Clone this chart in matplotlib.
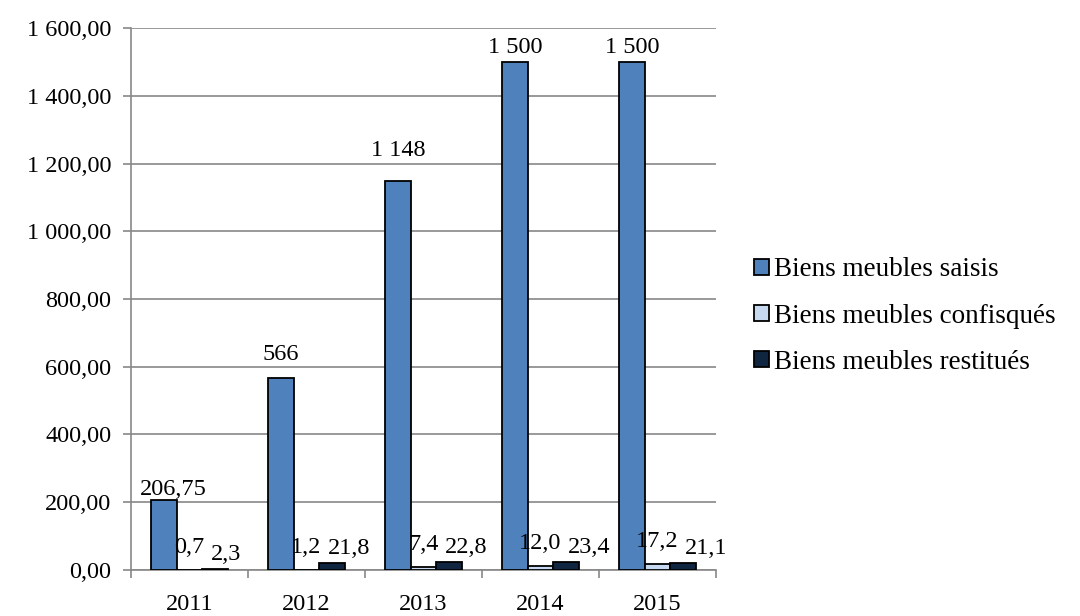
import matplotlib.pyplot as plt
import numpy as np
from matplotlib.ticker import FuncFormatter

years = ["2011", "2012", "2013", "2014", "2015"]
saisis = [206.75, 566, 1148, 1500, 1500]
confisques = [0.7, 1.2, 7.4, 12.0, 17.2]
restitues = [2.3, 21.8, 22.8, 23.4, 21.1]
saisis_labels = ["206,75", "566", "1 148", "1 500", "1 500"]
confisques_labels = ["0,7", "1,2", "7,4", "12,0", "17,2"]
restitues_labels = ["2,3", "21,8", "22,8", "23,4", "21,1"]
series_names = ["Biens meubles saisis", "Biens meubles confisqués", "Biens meubles restitués"]
colors = ["#4F81BD", "#C6D9F1", "#10253F"]

# label nudges in pixels (the original labels were placed by hand)
saisis_dx = [10, 0, 0, 0, 0]
saisis_dy = [0, 13, 20, 4, 4]
small_dy = [12, 4]  # confisqués, restitués

plt.rcParams["font.family"] = ["Liberation Serif", "DejaVu Serif"]
FS = 17.5

fig = plt.figure(figsize=(10.8, 6.16), dpi=100)
ax = fig.add_axes([0.1213, 0.0747, 0.5417, 0.8798])

x = np.arange(len(years))
w = 0.22
series = [saisis, confisques, restitues]
labels = [saisis_labels, confisques_labels, restitues_labels]
anns = []
for i, (vals, labs) in enumerate(zip(series, labels)):
    pos = x + (i - 1) * w
    bars = ax.bar(pos, vals, width=w, color=colors[i], edgecolor="black",
                  linewidth=1.3, label=series_names[i], zorder=3)
    row = []
    for j, (b, lab) in enumerate(zip(bars, labs)):
        if i == 0:
            off = (saisis_dx[j], saisis_dy[j])
        else:
            off = (0, small_dy[i - 1])
        a = ax.annotate(lab, (b.get_x() + b.get_width() / 2, b.get_height()),
                        xytext=off, textcoords="offset pixels",
                        ha="center", va="bottom", fontsize=FS)
        row.append(a)
    anns.append(row)

ax.set_xlim(-0.5, len(years) - 0.5)
ax.set_ylim(0, 1600)
ax.set_yticks(np.arange(0, 1601, 200))
ax.yaxis.set_major_formatter(FuncFormatter(
    lambda v, p: f"{v:,.2f}".replace(",", " ").replace(".", ",")))
ax.set_xticks(x)
ax.set_xticklabels(years)
ax.set_xticks(np.arange(-0.5, len(years)), minor=True)
ax.tick_params(axis="x", which="major", length=0, pad=17, labelsize=FS)
ax.tick_params(axis="x", which="minor", length=6, color="#888888", width=1.2)
ax.tick_params(axis="y", length=6, color="#888888", width=1.2, labelsize=FS, pad=8)

ax.grid(axis="y", color="#888888", linewidth=1.2, zorder=0)
for side in ["top", "right"]:
    ax.spines[side].set_visible(False)
ax.spines["left"].set_color("#888888")
ax.spines["bottom"].set_color("#888888")
ax.spines["left"].set_linewidth(1.2)
ax.spines["bottom"].set_linewidth(1.2)

fig.legend(loc="center left", bbox_to_anchor=(0.688, 0.487), frameon=False,
           fontsize=19.5, handlelength=0.55, handleheight=0.55, handletextpad=0.2,
           labelspacing=0.78, borderaxespad=0)

# push the "restitués" labels right when they would collide with the "confisqués" ones
fig.canvas.draw()
r = fig.canvas.get_renderer()
for light, dark in zip(anns[1], anns[2]):
    lb = light.get_window_extent(r)
    db = dark.get_window_extent(r)
    gap = lb.x1 + 6 - db.x0
    if gap > 0:
        dark.xyann = (gap, small_dy[1])

fig.savefig("out.png", dpi=100)
